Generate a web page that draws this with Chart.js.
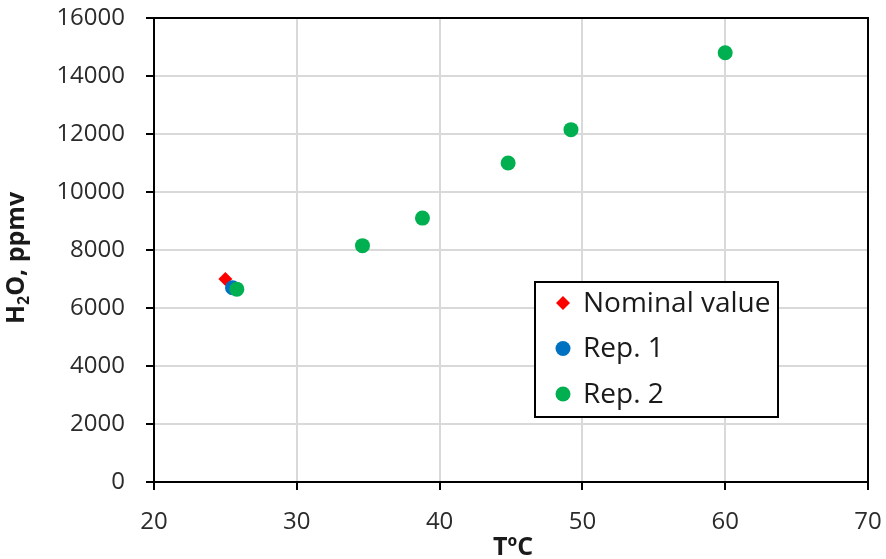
<!DOCTYPE html>
<html><head><meta charset="utf-8">
<script src="https://cdn.jsdelivr.net/npm/chart.js@4/dist/chart.umd.min.js"></script>
<style>html,body{margin:0;padding:0;background:#fff}canvas{display:block}</style>
</head><body>
<canvas id="c" width="886" height="559"></canvas>
<script>
// ---- data ----
const seriesNames = ['Nominal value', 'Rep. 1', 'Rep. 2'];
const nominalT   = [25.0];
const nominalH2O = [7000];
const rep1T      = [25.5];
const rep1H2O    = [6700];
const rep2T      = [25.8, 34.6, 38.8, 44.8, 49.2, 60.0];
const rep2H2O    = [6650, 8150, 9100, 11000, 12150, 14800];
const xTickValues = [20, 30, 40, 50, 60, 70];
const yTickValues = [0, 2000, 4000, 6000, 8000, 10000, 12000, 14000, 16000];
const xTitle = 'TºC';
const yTitleMain = 'H', yTitleSub = '2', yTitleRest = 'O, ppmv';

const pts = (xs, ys) => xs.map((x, i) => ({x: x, y: ys[i]}));

const FONT = 'Open Sans';
const seriesStyles = [
  {color: '#ff0000', style: 'rectRot', radius: 7},
  {color: '#0070c0', style: 'circle', radius: 7.5},
  {color: '#00b050', style: 'circle', radius: 7.5}
];

const datasets = [
  {label: seriesNames[0], data: pts(nominalT, nominalH2O), order: 2},
  {label: seriesNames[1], data: pts(rep1T, rep1H2O), order: 1},
  {label: seriesNames[2], data: pts(rep2T, rep2H2O), order: 0}
].map((d, i) => Object.assign(d, {
  backgroundColor: seriesStyles[i].color,
  borderColor: seriesStyles[i].color,
  borderWidth: 0,
  pointStyle: seriesStyles[i].style,
  pointRadius: seriesStyles[i].radius,
  pointHoverRadius: seriesStyles[i].radius,
  showLine: false
}));

function markerPath(ctx, style, x, y, r) {
  ctx.beginPath();
  if (style === 'rectRot') {
    ctx.moveTo(x - r, y); ctx.lineTo(x, y - r); ctx.lineTo(x + r, y); ctx.lineTo(x, y + r); ctx.closePath();
  } else {
    ctx.arc(x, y, r, 0, Math.PI * 2);
  }
}

const decor = {
  id: 'decor',
  beforeDatasetsDraw(chart) {
    const {ctx, chartArea: a} = chart;
    ctx.save();
    ctx.strokeStyle = '#000';
    ctx.lineWidth = 2;
    ctx.strokeRect(a.left, a.top, a.right - a.left, a.bottom - a.top);
    ctx.restore();
  },
  afterDraw(chart) {
    const {ctx, chartArea: a} = chart;
    ctx.save();
    // legend box
    const lx = 535, ly = 282, lw = 243, lh = 135;
    ctx.fillStyle = '#fff';
    ctx.fillRect(lx, ly, lw, lh);
    ctx.strokeStyle = '#000';
    ctx.lineWidth = 2;
    ctx.strokeRect(lx, ly, lw, lh);
    const rowY = [303, 348.5, 394];
    ctx.font = '28px "' + FONT + '"';
    ctx.textBaseline = 'middle';
    ctx.textAlign = 'left';
    chart.data.datasets.forEach((ds, i) => {
      ctx.fillStyle = ds.backgroundColor;
      markerPath(ctx, ds.pointStyle, 563, rowY[i], ds.pointStyle === 'rectRot' ? 7 : 7.5);
      ctx.fill();
      ctx.fillStyle = '#1a1a1a';
      ctx.fillText(ds.label, 583, rowY[i] + 1);
    });
    // x title
    ctx.fillStyle = '#1a1a1a';
    ctx.font = 'bold 25px "' + FONT + '"';
    ctx.textAlign = 'center';
    ctx.textBaseline = 'alphabetic';
    ctx.fillText(xTitle, (a.left + a.right) / 2 + 2, 555);
    // y title with subscript
    const big = 'bold 25px "' + FONT + '"', small = 'bold 16px "' + FONT + '"';
    ctx.font = big; const w1 = ctx.measureText(yTitleMain).width, w3 = ctx.measureText(yTitleRest).width;
    ctx.font = small; const w2 = ctx.measureText(yTitleSub).width;
    const total = w1 + w2 + w3;
    ctx.translate(24, 258);
    ctx.rotate(-Math.PI / 2);
    ctx.textAlign = 'left';
    let x0 = -total / 2;
    ctx.font = big; ctx.fillText(yTitleMain, x0, 0);
    ctx.font = small; ctx.fillText(yTitleSub, x0 + w1, 5);
    ctx.font = big; ctx.fillText(yTitleRest, x0 + w1 + w2, 0);
    ctx.restore();
  }
};

const gridCommon = {color: '#d9d9d9', lineWidth: 2, tickLength: 8, tickColor: '#000', tickWidth: 2, drawTicks: true};
const tickFont = {family: FONT, size: 24};
const zeroPad = s => { s.paddingTop = 0; s.paddingBottom = 0; s.paddingLeft = 0; s.paddingRight = 0; };

new Chart(document.getElementById('c'), {
  type: 'scatter',
  data: {datasets: datasets},
  options: {
    responsive: false,
    animation: false,
    devicePixelRatio: 1,
    layout: {padding: {top: 18, right: 18, left: 0, bottom: 0}},
    plugins: {legend: {display: false}, tooltip: {enabled: false}, title: {display: false}},
    scales: {
      x: {
        type: 'linear', min: 20, max: 70,
        afterBuildTicks: s => { s.ticks = xTickValues.map(v => ({value: v})); },
        afterFit: s => { s.height = 77; zeroPad(s); },
        grid: gridCommon,
        border: {color: '#000', width: 2},
        ticks: {font: tickFont, color: '#2b2b2b', padding: 18, maxRotation: 0, autoSkip: false, callback: v => String(v)}
      },
      y: {
        type: 'linear', min: 0, max: 16000,
        afterBuildTicks: s => { s.ticks = yTickValues.map(v => ({value: v})); },
        afterFit: s => { s.width = 154; zeroPad(s); },
        grid: gridCommon,
        border: {color: '#000', width: 2},
        ticks: {font: tickFont, color: '#2b2b2b', padding: 21, autoSkip: false, callback: v => String(v)}
      }
    }
  },
  plugins: [decor]
});
</script>
</body></html>
